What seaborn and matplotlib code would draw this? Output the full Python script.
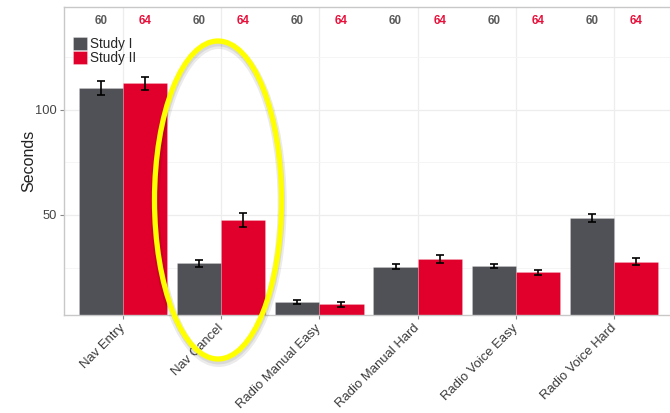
import matplotlib
matplotlib.use("Agg")
import matplotlib.pyplot as plt
import seaborn as sns
import pandas as pd
from matplotlib.patches import Ellipse, Patch
from matplotlib import patheffects as pe
from matplotlib.ticker import FixedLocator

# Task completion times (seconds): means and standard errors per study
tasks = ["Nav Entry", "Nav Cancel", "Radio Manual Easy",
         "Radio Manual Hard", "Radio Voice Easy", "Radio Voice Hard"]
studies = ["Study I", "Study II"]
study1_mean = [110.5, 27.0, 8.4, 25.4, 25.7, 48.6]
study2_mean = [112.6, 47.6, 7.4, 29.0, 22.7, 27.8]
study1_se = [3.3, 1.7, 1.0, 1.2, 1.1, 2.0]
study2_se = [3.3, 3.2, 1.0, 2.0, 1.1, 1.5]
sample_sizes = [60, 64]

bar_colors = ["#505157", "#E0002B"]
count_colors = ["#5A5A5A", "#E8103A"]

df = pd.DataFrame({
    "task": tasks * 2,
    "study": [studies[0]] * len(tasks) + [studies[1]] * len(tasks),
    "seconds": study1_mean + study2_mean,
    "se": study1_se + study2_se,
})

sns.set_theme(style="white")
plt.rcParams["font.family"] = ["Liberation Sans", "DejaVu Sans"]

W, H = 670, 413
fig = plt.figure(figsize=(W / 100, H / 100), dpi=100)
ax = fig.add_axes([64 / W, 98 / H, 609 / W, 308 / H])

sns.barplot(data=df, x="task", y="seconds", hue="study", order=tasks,
            hue_order=studies, palette=bar_colors, saturation=1, width=0.9,
            errorbar=None, legend=False, edgecolor=(1, 1, 1, 0.25),
            linewidth=0.5, ax=ax, zorder=2)

# error bars and sample-size labels, placed on the drawn bars
bars = sorted(ax.patches, key=lambda p: p.get_x())
lookup = df.set_index(["task", "study"])
xs, ys, es, ns, cs = [], [], [], [], []
for i, bar in enumerate(bars):
    task = tasks[i // 2]
    k = i % 2
    row = lookup.loc[(task, studies[k])]
    xs.append(bar.get_x() + bar.get_width() / 2)
    ys.append(row["seconds"])
    es.append(row["se"])
    ns.append(sample_sizes[k])
    cs.append(count_colors[k])

ax.errorbar(xs, ys, yerr=es, fmt="none", ecolor="black", elinewidth=1.2,
            capsize=2.6, capthick=1.2, zorder=3)
for x, n, c in zip(xs, ns, cs):
    ax.text(x, 142.5, str(n), ha="center", va="center", fontsize=8.3,
            fontweight="bold", color=c, zorder=4)

ax.set_xlim(-0.6, 5.6)
ax.set_ylim(2.4, 149)
ax.yaxis.set_major_locator(FixedLocator([50, 100]))
ax.yaxis.set_minor_locator(FixedLocator([25, 75, 125]))
ax.grid(True, which="major", color="#EDEDED", linewidth=0.9, zorder=0)
ax.grid(True, which="minor", axis="y", color="#F4F4F4", linewidth=0.6, zorder=0)
ax.set_axisbelow(True)

ax.set_xlabel("")
ax.set_ylabel("Seconds", fontsize=11.5, color="#222222", labelpad=-1)
ax.tick_params(axis="y", which="major", length=3, width=0.8, color="#888888",
               labelsize=9.3, labelcolor="#444444", pad=2, left=True)
ax.tick_params(axis="y", which="minor", length=0)
ax.tick_params(axis="x", length=3, width=0.8, color="#888888",
               labelsize=9.4, labelcolor="#3A3A3A", pad=5, bottom=True)
for lab in ax.get_xticklabels():
    lab.set_rotation(45)
    lab.set_ha("right")
    lab.set_va("center")
    lab.set_rotation_mode("anchor")

for side in ["left", "bottom", "top", "right"]:
    ax.spines[side].set_color("#C8C8C8")
    ax.spines[side].set_linewidth(1.0)

handles = [Patch(facecolor=c, edgecolor=(1, 1, 1, 0.4), linewidth=0.5)
           for c in bar_colors]
ax.legend(handles, studies, loc="upper left", bbox_to_anchor=(0.014, 0.902),
          frameon=False, fontsize=9.8, handlelength=1.1, handleheight=1.0,
          labelspacing=0.0, handletextpad=0.15, borderpad=0, borderaxespad=0)

# highlight around the Nav Cancel group
ring = Ellipse((218 / W, 1 - 200 / H), 127 / W, 318 / H,
               transform=fig.transFigure, fill=False, edgecolor="#FFFF00",
               linewidth=3.8, zorder=10, clip_on=False)
ring.set_path_effects([
    pe.SimpleLineShadow(offset=(0.5, -2.5), shadow_color="black", alpha=0.08,
                        linewidth=6.5),
    pe.SimpleLineShadow(offset=(0.5, -2.0), shadow_color="black", alpha=0.08),
    pe.Normal(),
])
fig.add_artist(ring)

fig.savefig("out.png", dpi=100)
